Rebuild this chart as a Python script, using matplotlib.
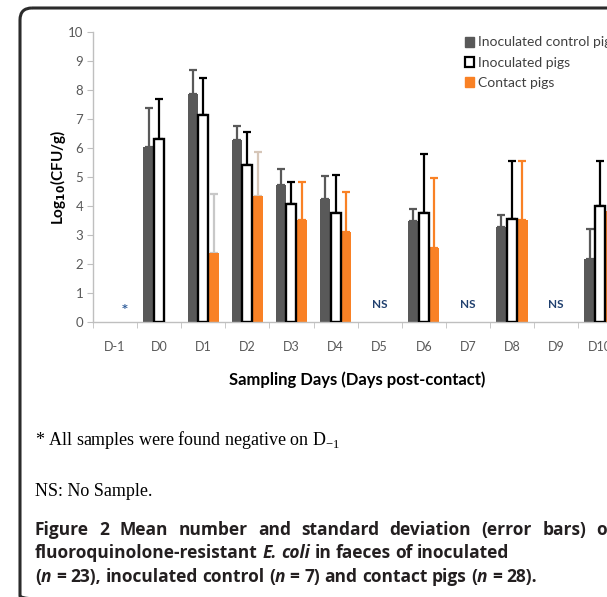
import numpy as np
import matplotlib
matplotlib.use("Agg")
import matplotlib.pyplot as plt
from matplotlib.patches import FancyBboxPatch, Patch

nan = np.nan

days = ["D-1", "D0", "D1", "D2", "D3", "D4", "D5", "D6", "D7", "D8", "D9", "D10"]
# mean log10 CFU/g and upper SD, per group
control = [nan, 6.03, 7.88, 6.29, 4.71, 4.24, nan, 3.48, nan, 3.27, nan, 2.17]
control_sd = [nan, 1.35, 0.83, 0.48, 0.56, 0.78, nan, 0.42, nan, 0.42, nan, 1.03]
inoculated = [nan, 6.32, 7.15, 5.42, 4.06, 3.75, nan, 3.77, nan, 3.54, nan, 4.01]
inoculated_sd = [nan, 1.39, 1.27, 1.15, 0.75, 1.32, nan, 2.03, nan, 2.02, nan, 1.53]
contact = [nan, nan, 2.39, 4.35, 3.52, 3.09, nan, 2.55, nan, 3.50, nan, 3.83]
contact_sd = [nan, nan, 2.02, 1.53, 1.29, 1.39, nan, 2.43, nan, 2.06, nan, 1.70]
no_sample = ["D5", "D7", "D9"]

GRAY = "#595959"
ORANGE = "#F98125"
contact_err_colors = ["#c8c8c8", "#c8c8c8", "#c8c8c8", "#d6c6b8", ORANGE, ORANGE,
                      ORANGE, ORANGE, ORANGE, ORANGE, ORANGE, ORANGE]

W, H = 607, 597
fig = plt.figure(figsize=(W / 100, H / 100), dpi=100)

# rounded frame around the figure panel (pixel coords)
bg = fig.add_axes([0, 0, 1, 1])
bg.set_xlim(0, W)
bg.set_ylim(H, 0)
bg.axis("off")
bg.add_patch(FancyBboxPatch((20, 8), 640, 600, boxstyle="round,pad=0,rounding_size=12",
                            fill=False, lw=2.2, ec="#2b2b2b"))

# chart axes: x=93 px left, 44.1 px per category, y 0..10 from 321.7 to 32.3
left, step = 93, 44.1
ax = fig.add_axes([left / W, (H - 321.7) / H, 13 * step / W, (321.7 - 32.3) / H])
x = np.arange(len(days))
w = 0.238

ax.bar(x - w, control, w, color=GRAY, zorder=2)
ax.bar(x, inoculated, w * 0.96, color="white", edgecolor="black", lw=1.7, zorder=3)
ax.bar(x + w, contact, w, color=ORANGE, zorder=2)

ax.errorbar(x - w, control, yerr=[np.zeros(len(x)), control_sd], fmt="none",
            ecolor=GRAY, elinewidth=1.6, capsize=3, capthick=1.6, zorder=1)
ax.errorbar(x, inoculated, yerr=[np.zeros(len(x)), inoculated_sd], fmt="none",
            ecolor="black", elinewidth=1.6, capsize=3, capthick=1.6, zorder=1)
for i in range(len(x)):
    if np.isnan(contact[i]):
        continue
    ax.errorbar(x[i] + w, contact[i], yerr=[[0], [contact_sd[i]]], fmt="none",
                ecolor=contact_err_colors[i], elinewidth=1.6, capsize=3,
                capthick=1.6, zorder=1)

for d in no_sample:
    ax.text(days.index(d), 0.58, "NS", ha="center", va="center", fontsize=8.5,
            fontweight="bold", color="#1F3F6E", family="Lato")
ax.text(0 + w * 0.9, 0.45, "*", ha="center", va="center", fontsize=8,
        color="#2E5C9A", fontweight="bold")

ax.set_xlim(-0.5, 12.5)
ax.set_ylim(0, 10)
ax.set_yticks(range(0, 11))
ax.set_xticks(x)
ax.set_xticklabels(days)
ax.set_xticks(np.arange(-0.5, 12.5, 1), minor=True)
ax.tick_params(axis="x", which="major", length=0, pad=14, labelsize=9,
               labelcolor=GRAY)
ax.tick_params(axis="x", which="minor", length=4, color="#bfbfbf")
ax.tick_params(axis="y", length=4, color="#bfbfbf", labelsize=9.5, labelcolor=GRAY,
               pad=3)
for lab in ax.get_xticklabels() + ax.get_yticklabels():
    lab.set_family("Lato")
for s in ("top", "right"):
    ax.spines[s].set_visible(False)
for s in ("left", "bottom"):
    ax.spines[s].set_color("#bfbfbf")
    ax.spines[s].set_linewidth(1.0)

fig.text(58 / W, 1 - 177 / H, r"Log$_{\mathbf{10}}$(CFU/g)", rotation=90,
         ha="center", va="center", fontsize=11, fontweight="bold", family="Lato")
fig.text(357 / W, 1 - 380 / H, "Sampling Days (Days post-contact)", ha="center",
         va="center", fontsize=12, fontweight="bold", family="Lato")

handles = [Patch(facecolor=GRAY, edgecolor=GRAY),
           Patch(facecolor="white", edgecolor="black", lw=1.6),
           Patch(facecolor=ORANGE, edgecolor=ORANGE)]
fig.legend(handles, ["Inoculated control pigs", "Inoculated pigs", "Contact pigs"],
           loc="upper left", bbox_to_anchor=(452 / W, 1 - 24 / H), frameon=False,
           handlelength=0.7, handleheight=0.7, handletextpad=0.3, labelspacing=0.6,
           prop={"family": "Lato", "size": 10}, labelcolor="#404040")

# footnotes (serif) and caption
fig.text(35 / W, 1 - 440 / H, r"* All samples were found negative on D$_{\mathregular{-1}}$",
         ha="left", va="center", fontsize=13, family="Liberation Serif")
fig.text(35 / W, 1 - 492 / H, "NS: No Sample.", ha="left", va="center",
         fontsize=13, family="Liberation Serif")

renderer = fig.canvas.get_renderer()


def draw_runs(xpx, ypx, runs, size=12.5, target=None):
    # place text runs one after another; optionally spread words to a target width
    words = []
    for txt, style in runs:
        words.append((txt, style))
    extra = 0
    if target is not None:
        texts = [fig.text(0, 0, t, fontsize=size, fontweight="bold", fontstyle=s,
                          family="Open Sans") for t, s in runs]
        natural = sum(t.get_window_extent(renderer).width for t in texts)
        for t in texts:
            t.remove()
        gaps = sum(t.count(" ") for t, s in runs)
        extra = (target - xpx - natural) / max(gaps, 1)
    cur = xpx
    for txt, style in words:
        for j, part in enumerate(txt.split(" ")):
            if j > 0:
                sp = fig.text(0, 0, " ", fontsize=size, fontweight="bold",
                              family="Open Sans")
                cur += sp.get_window_extent(renderer).width + extra
                sp.remove()
            if part == "":
                continue
            t = fig.text(cur / W, 1 - ypx / H, part, ha="left", va="center",
                         fontsize=size, fontweight="bold", fontstyle=style,
                         family="Open Sans", color="#231F20")
            cur += t.get_window_extent(renderer).width


draw_runs(35, 530, [("Figure 2 Mean number and standard deviation (error bars) of", "normal")],
          target=614)
draw_runs(35, 553, [("fluoroquinolone-resistant ", "normal"), ("E. coli", "italic"),
                    (" in faeces of inoculated", "normal")])
draw_runs(35, 577, [("(", "normal"), ("n", "italic"), (" = 23), inoculated control (", "normal"),
                    ("n", "italic"), (" = 7) and contact pigs (", "normal"), ("n", "italic"),
                    (" = 28).", "normal")])

fig.savefig("out.png", dpi=100)
